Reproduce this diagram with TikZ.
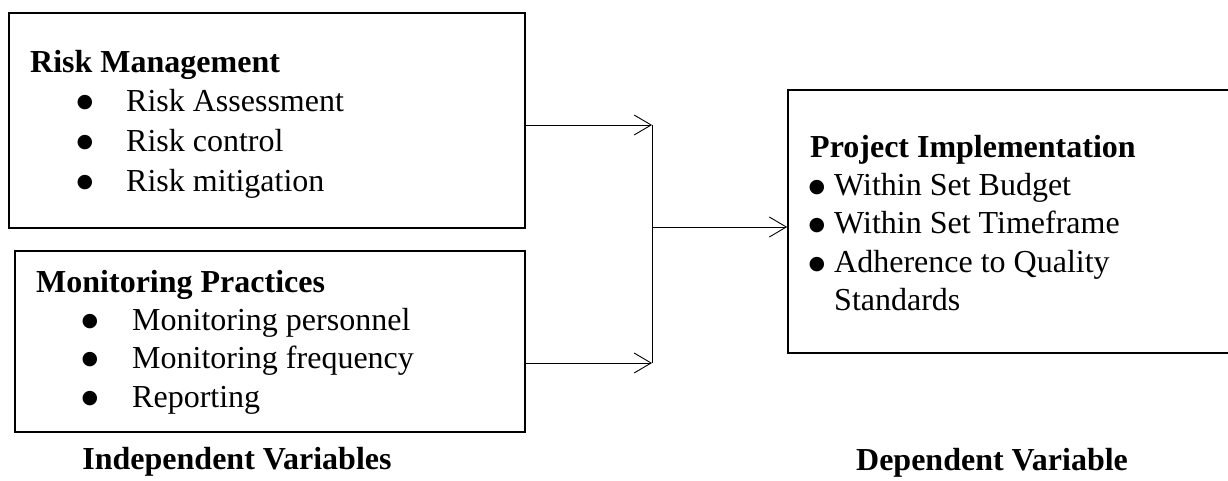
\documentclass[tikz,border=0pt]{standalone}
\usepackage{fontspec}
\setmainfont{Liberation Serif}
\newfontfamily\symfont{DejaVu Sans}
\usetikzlibrary{arrows.meta}
\begin{document}
\begin{tikzpicture}[x=1pt,y=-1pt,
  box/.style={draw, line width=1.6pt, inner sep=0pt, anchor=center},
  txt/.style={anchor=base west, inner sep=0pt, font=\fontsize{32}{38}\selectfont},
  hd/.style={txt, font=\fontsize{32}{38}\selectfont\bfseries},
  captxt/.style={anchor=base, inner sep=0pt, font=\fontsize{32}{38}\selectfont\bfseries},
  bul/.style={anchor=center, inner sep=0pt, font=\symfont\fontsize{19}{21}\selectfont},
  conn/.style={line width=0.9pt},
  arr/.style={conn, -{Straight Barb[length=17pt, width=20pt, line width=0.9pt]}}]
\useasboundingbox (0,0) rectangle (1228,480);
\fill[white] (0,0) rectangle (1228,480);

% boxes
\node[box, minimum width=516, minimum height=215] (rm) at (267,120.5) {};
\node[box, minimum width=510, minimum height=181] (mp) at (270,341.5) {};
\node[box, minimum width=460, minimum height=263] (pi) at (1018,221.5) {};

% box 1 text
\node[hd] (rmh) at (30,72) {Risk Management};
\node[bul] (rmb1) at (85,102.5) {●};
\node[txt] (rm1) at (126,111) {Risk Assessment};
\node[bul] (rmb2) at (85,142.5) {●};
\node[txt] (rm2) at (126,151) {Risk control};
\node[bul] (rmb3) at (85,182.5) {●};
\node[txt] (rm3) at (126,191) {Risk mitigation};

% box 2 text
\node[hd] (mph) at (36,292) {Monitoring Practices};
\node[bul] (mpb1) at (90,321.5) {●};
\node[txt] (mp1) at (132,330) {Monitoring personnel};
\node[bul] (mpb2) at (90,359.5) {●};
\node[txt] (mp2) at (132,368) {Monitoring frequency};
\node[bul] (mpb3) at (90,398.5) {●};
\node[txt] (mp3) at (132,407) {Reporting};

% box 3 text
\node[hd] (pih) at (810,157) {Project Implementation};
\node[bul] (pib1) at (817,187.5) {●};
\node[txt] (pi1) at (834,195) {Within Set Budget};
\node[bul] (pib2) at (817,225.5) {●};
\node[txt] (pi2) at (834,233) {Within Set Timeframe};
\node[bul] (pib3) at (817,264.5) {●};
\node[txt] (pi3) at (834,272) {Adherence to Quality};
\node[txt] (pi4) at (834,310) {Standards};

% captions
\node[captxt] (iv) at (237,469.5) {Independent Variables};
\node[captxt] (dv) at (992,470) {Dependent Variable};

% connectors
\coordinate (j1) at (652,125);
\coordinate (j2) at (652,363);
\coordinate (jm) at (652,227);
\draw[arr] (rm.east |- j1) -- (j1);
\draw[arr] (mp.east |- j2) -- (j2);
\draw[conn] (j1) -- (j2);
\draw[arr] (jm) -- (pi.west |- jm);
\end{tikzpicture}
\end{document}
